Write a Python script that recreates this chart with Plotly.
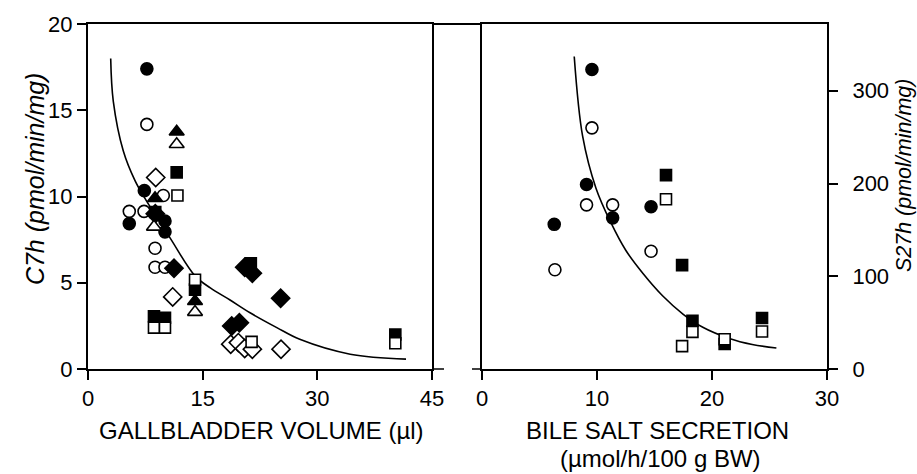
import plotly.graph_objects as go

# ---------------- Left panel: C7h vs gallbladder volume ----------------
L_fc_x = [7.7, 7.37, 5.4, 10.07, 10.07]
L_fc_y = [17.4, 10.34, 8.43, 8.58, 7.95]
L_oc_x = [7.7, 9.85, 5.4, 7.33, 8.77, 8.77, 10.07]
L_oc_y = [14.18, 10.06, 9.14, 9.14, 7.0, 5.9, 5.9]
L_ft_x = [11.6, 8.77, 14.0]
L_ft_y = [13.75, 9.9, 3.93]
L_ot_x = [11.6, 8.63, 14.0]
L_ot_y = [13.03, 8.24, 3.3]
L_fs_x = [11.6, 8.8, 14.0, 8.63, 10.07, 21.3, 40.2]
L_fs_y = [11.4, 9.1, 4.6, 3.06, 2.97, 6.13, 2.0]
L_os_x = [11.7, 14.0, 8.63, 10.07, 21.4, 40.2]
L_os_y = [10.06, 5.17, 2.4, 2.4, 1.57, 1.49]
L_fd_x = [8.8, 11.25, 20.5, 21.5, 25.2, 18.8, 19.8]
L_fd_y = [9.0, 5.84, 5.9, 5.55, 4.1, 2.49, 2.68]
L_od_x = [8.86, 11.08, 18.67, 19.67, 20.5, 21.5, 25.25]
L_od_y = [11.1, 4.18, 1.44, 1.53, 1.19, 1.15, 1.15]
L_curve_x = [2.97, 3.31, 4.62, 6.15, 7.37, 10.73, 14.0, 16.0, 18.58, 21.2, 24.7, 27.7, 34.3, 41.6]
L_curve_y = [18.0, 15.52, 12.64, 10.92, 9.95, 7.6, 5.4, 4.7, 4.0, 3.26, 2.4, 1.72, 0.86, 0.57]

# ---------------- Right panel: S27h vs bile salt secretion ----------------
R_fc_x = [9.56, 9.09, 11.36, 6.28, 14.7]
R_fc_y = [323, 199, 163, 156, 175]
R_oc_x = [9.56, 9.09, 11.36, 6.34, 14.7]
R_oc_y = [260, 177, 177, 107, 127]
R_fs_x = [16.0, 17.4, 18.3, 21.1, 24.35]
R_fs_y = [209, 112, 52, 27, 55]
R_os_x = [16.0, 18.3, 17.4, 21.1, 24.35]
R_os_y = [183, 40, 24.7, 32, 40.5]
R_curve_x = [8.02, 8.75, 9.91, 11.2, 12.5, 14.0, 15.7, 17.5, 19.2, 21.5, 23.5, 25.6]
R_curve_y = [337, 251, 195, 158, 128, 103, 79, 59, 45, 33, 26.5, 22.6]

L_xticks = [0, 15, 30, 45]
L_yticks = [0, 5, 10, 15, 20]
R_xticks = [0, 10, 20, 30]
R_yticks = [0, 100, 200, 300]

FONT = "Liberation Sans, Arial, sans-serif"
W, H = 917, 474
ML, MR, MT, MB = 88, 90, 22, 105
PW = W - ML - MR
PH = H - MT - MB

def px(x):
    return (x - ML) / PW

def py(y):
    return (H - MB - y) / PH

fig = go.Figure()

def add(xs, ys, symbol, filled, size, xa="x", ya="y"):
    fig.add_trace(go.Scatter(
        x=xs, y=ys, mode="markers", xaxis=xa, yaxis=ya,
        marker=dict(symbol=symbol, size=size,
                    color="black" if filled else "white",
                    line=dict(color="black", width=1.6)),
        showlegend=False, hoverinfo="skip"))

def curve(xs, ys, xa="x", ya="y"):
    fig.add_trace(go.Scatter(
        x=xs, y=ys, mode="lines", xaxis=xa, yaxis=ya,
        line=dict(color="black", width=1.6, shape="spline", smoothing=1.0),
        showlegend=False, hoverinfo="skip"))

curve(L_curve_x, L_curve_y)
add(L_fc_x, L_fc_y, "circle", True, 12)
add(L_oc_x, L_oc_y, "circle", False, 12)
add(L_fd_x, L_fd_y, "diamond", True, 14)
add(L_od_x, L_od_y, "diamond", False, 14)
add(L_fs_x, L_fs_y, "square", True, 11)
add(L_os_x, L_os_y, "square", False, 11)
add(L_ft_x, L_ft_y, "triangle-up", True, 13)
add(L_ot_x, L_ot_y, "triangle-up", False, 13)

curve(R_curve_x, R_curve_y, "x2", "y2")
add(R_fc_x, R_fc_y, "circle", True, 12, "x2", "y2")
add(R_oc_x, R_oc_y, "circle", False, 12, "x2", "y2")
add(R_fs_x, R_fs_y, "square", True, 11, "x2", "y2")
add(R_os_x, R_os_y, "square", False, 11, "x2", "y2")

axis_common = dict(showline=True, linecolor="black", linewidth=2, mirror=True,
                   ticks="outside", ticklen=9, tickwidth=1.5, tickcolor="black",
                   showgrid=False, zeroline=False,
                   tickfont=dict(family=FONT, size=22, color="black"))

fig.update_layout(
    width=W, height=H,
    margin=dict(l=ML, r=MR, t=MT, b=MB, pad=0),
    paper_bgcolor="white", plot_bgcolor="white",
    xaxis=dict(domain=[0, px(432)], range=[0, 45], tickvals=L_xticks, anchor="y", **axis_common),
    yaxis=dict(domain=[0, 1], range=[0, 20], tickvals=L_yticks, anchor="x", **axis_common),
    xaxis2=dict(domain=[px(482), 1], range=[0, 30], tickvals=R_xticks, anchor="y2", **axis_common),
    yaxis2=dict(domain=[0, 1], range=[0, 372], tickvals=R_yticks, anchor="x2", side="right",
                ticklabelstandoff=10, **axis_common),
)

# top line bridging the two panels and bottom stubs
fig.add_shape(type="line", xref="paper", yref="paper", x0=px(432), x1=px(482), y0=1, y1=1,
              line=dict(color="black", width=2))
fig.add_shape(type="line", xref="paper", yref="paper", x0=px(432), x1=px(444), y0=0, y1=0,
              line=dict(color="black", width=1.5))
fig.add_shape(type="line", xref="paper", yref="paper", x0=px(472), x1=px(482), y0=0, y1=0,
              line=dict(color="black", width=1.5))

def ann(text, x, y, size, angle=0, italic=False):
    fig.add_annotation(text=text, xref="paper", yref="paper", x=px(x), y=py(y),
                       xanchor="center", yanchor="middle", showarrow=False, textangle=angle,
                       font=dict(family=FONT, size=size, color="black",
                                 style="italic" if italic else "normal"))

ann("GALLBLADDER VOLUME (µl)", 261, 431, 24)
ann("BILE SALT SECRETION", 657, 431, 24)
ann("(µmol/h/100 g BW)", 660, 459, 24)
ann("C7h (pmol/min/mg)", 35, 178, 25, -90, True)
ann("S27h (pmol/min/mg)", 904, 174, 21.5, -90, True)

fig.write_html("out.html")
